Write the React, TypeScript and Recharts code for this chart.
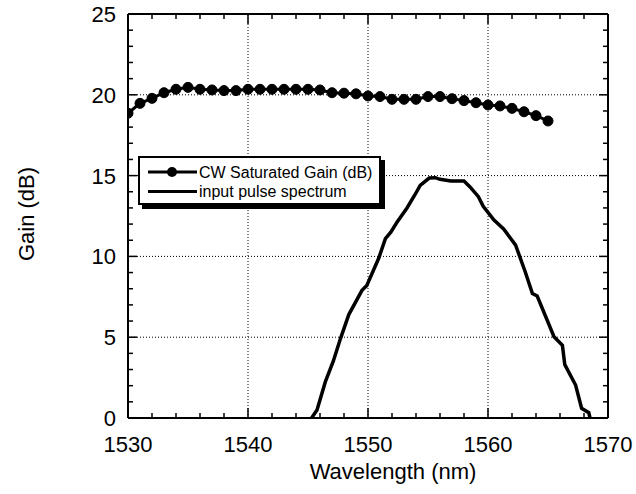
import { Line, LineChart, ReferenceLine, XAxis, YAxis } from "recharts";

const GAIN_WL = [
  1530, 1531, 1532, 1533, 1534, 1535, 1536, 1537, 1538, 1539, 1540, 1541, 1542, 1543, 1544, 1545, 1546, 1547,
  1548, 1549, 1550, 1551, 1552, 1553, 1554, 1555, 1556, 1557, 1558, 1559, 1560, 1561, 1562, 1563, 1564, 1565,
];
const GAIN_DB = [
  18.86, 19.47, 19.78, 20.13, 20.34, 20.46, 20.34, 20.3, 20.26, 20.26, 20.34, 20.34, 20.34, 20.34, 20.34, 20.34,
  20.3, 20.13, 20.1, 20.06, 19.93, 19.89, 19.72, 19.72, 19.72, 19.89, 19.89, 19.76, 19.64, 19.51, 19.37, 19.31,
  19.16, 18.95, 18.71, 18.38,
];

const SPECTRUM_WL = [
  1545.3, 1545.75, 1546.45, 1547.1, 1547.7, 1548.4, 1549.5, 1549.9, 1550.9, 1551.45, 1551.9, 1552.4, 1553.25,
  1553.9, 1554.35, 1555.1, 1555.6, 1556.0, 1556.9, 1558.0, 1558.5, 1559.2, 1559.6, 1560.5, 1561.3, 1562.3,
  1563.1, 1563.7, 1564.1, 1565.5, 1566.2, 1566.4, 1567.3, 1567.8, 1568.4, 1568.5,
];
const SPECTRUM_DB = [
  0, 0.5, 2.25, 3.5, 4.9, 6.4, 7.9, 8.2, 9.9, 11.1, 11.5, 12.1, 13.0, 13.8, 14.4, 14.85, 14.87, 14.77, 14.67,
  14.67, 14.3, 13.7, 13.1, 12.25, 11.7, 10.7, 9.05, 7.7, 7.55, 5.03, 4.5, 3.3, 2.04, 0.6, 0.33, 0,
];

const X_MAJOR = [1530, 1540, 1550, 1560, 1570];
const X_TICKS = [
  1530, 1532, 1534, 1536, 1538, 1540, 1542, 1544, 1546, 1548, 1550, 1552, 1554, 1556, 1558, 1560, 1562, 1564,
  1566, 1568, 1570,
];
const Y_MAJOR = [0, 5, 10, 15, 20, 25];
const Y_TICKS = [
  0, 1, 2, 3, 4, 5, 6, 7, 8, 9, 10, 11, 12, 13, 14, 15, 16, 17, 18, 19, 20, 21, 22, 23, 24, 25,
];
const X_GRID = [1540, 1550, 1560];
const Y_GRID = [5, 10, 15, 20];

const gainData = GAIN_WL.map((wl, i) => ({ wl, db: GAIN_DB[i] }));
const spectrumData = SPECTRUM_WL.map((wl, i) => ({ wl, db: SPECTRUM_DB[i] }));

const FONT = "'Liberation Sans', Arial, sans-serif";

const BottomTick = (props: any) => {
  const { x, y, payload } = props;
  const major = X_MAJOR.includes(payload.value);
  return (
    <g>
      <line x1={x} y1={y} x2={x} y2={y - (major ? 10 : 5)} stroke="#000" strokeWidth={1.5} />
      {major && (
        <text x={x} y={y + 34} textAnchor="middle" fontSize={22} fill="#000" fontFamily={FONT}>
          {payload.value}
        </text>
      )}
    </g>
  );
};

const TopTick = (props: any) => {
  const { x, y, payload } = props;
  const major = X_MAJOR.includes(payload.value);
  return <line x1={x} y1={y} x2={x} y2={y + (major ? 10 : 5)} stroke="#000" strokeWidth={1.5} />;
};

const LeftTick = (props: any) => {
  const { x, y, payload } = props;
  const major = Y_MAJOR.includes(payload.value);
  return (
    <g>
      <line x1={x} y1={y} x2={x + (major ? 9 : 5)} y2={y} stroke="#000" strokeWidth={1.5} />
      {major && (
        <text x={x - 12} y={y} dy="0.36em" textAnchor="end" fontSize={22} fill="#000" fontFamily={FONT}>
          {payload.value}
        </text>
      )}
    </g>
  );
};

const RightTick = (props: any) => {
  const { x, y, payload } = props;
  const major = Y_MAJOR.includes(payload.value);
  return <line x1={x} y1={y} x2={x - (major ? 9 : 5)} y2={y} stroke="#000" strokeWidth={1.5} />;
};

function ChartLegend() {
  return (
    <div
      style={{
        position: "absolute",
        left: 138,
        top: 156,
        width: 239,
        height: 45,
        border: "2px solid #000",
        boxShadow: "4px 4px 0 #000",
        background: "#fff",
      }}
    >
      <svg width={239} height={45} style={{ position: "absolute", left: 0, top: 0 }}>
        <line x1={8} y1={14} x2={57} y2={14} stroke="#000" strokeWidth={3} />
        <circle cx={32} cy={14} r={5} fill="#000" />
        <line x1={8} y1={33.5} x2={57} y2={33.5} stroke="#000" strokeWidth={3} />
        <text x={59} y={14} dy="0.36em" fontSize={16} fontFamily={FONT} fill="#000">
          CW Saturated Gain (dB)
        </text>
        <text x={59} y={33} dy="0.36em" fontSize={16} fontFamily={FONT} fill="#000">
          input pulse spectrum
        </text>
      </svg>
    </div>
  );
}

export default function App() {
  return (
    <div style={{ position: "absolute", left: 0, top: 0, width: 636, height: 494, background: "#fff" }}>
      <LineChart
        width={636}
        height={494}
        margin={{ top: 13, right: 27, bottom: 36, left: 68 }}
        style={{ fontFamily: FONT }}
      >
        <XAxis
          dataKey="wl"
          type="number"
          domain={[1530, 1570]}
          ticks={X_TICKS}
          interval={0}
          allowDataOverflow
          height={40}
          tickSize={0}
          tickMargin={0}
          tick={<BottomTick />}
          axisLine={{ stroke: "#000", strokeWidth: 2 }}
          label={{
            content: (p: any) => (
              <text
                x={p.viewBox.x + p.viewBox.width / 2 + 25}
                y={479}
                textAnchor="middle"
                fontSize={22}
                fill="#000"
                fontFamily={FONT}
              >
                Wavelength (nm)
              </text>
            ),
          }}
        />
        <XAxis
          xAxisId="top"
          orientation="top"
          dataKey="wl"
          type="number"
          domain={[1530, 1570]}
          ticks={X_TICKS}
          interval={0}
          allowDataOverflow
          height={1}
          tickSize={0}
          tickMargin={0}
          tick={<TopTick />}
          axisLine={{ stroke: "#000", strokeWidth: 2 }}
        />
        <YAxis
          type="number"
          domain={[0, 25]}
          ticks={Y_TICKS}
          interval={0}
          allowDataOverflow
          width={60}
          tickSize={0}
          tickMargin={0}
          tick={<LeftTick />}
          axisLine={{ stroke: "#000", strokeWidth: 2 }}
          label={{
            content: () => (
              <text
                x={26}
                y={214}
                transform="rotate(-90 26 214)"
                textAnchor="middle"
                dominantBaseline="central"
                fontSize={22}
                fill="#000"
                fontFamily={FONT}
              >
                Gain (dB)
              </text>
            ),
          }}
        />
        <YAxis
          yAxisId="right"
          orientation="right"
          type="number"
          domain={[0, 25]}
          ticks={Y_TICKS}
          interval={0}
          allowDataOverflow
          width={1}
          tickSize={0}
          tickMargin={0}
          tick={<RightTick />}
          axisLine={{ stroke: "#000", strokeWidth: 2 }}
        />
        {X_GRID.map((v) => (
          <ReferenceLine key={`x${v}`} x={v} stroke="#000" strokeDasharray="1 2" strokeWidth={1} />
        ))}
        {Y_GRID.map((v) => (
          <ReferenceLine key={`y${v}`} y={v} stroke="#000" strokeDasharray="1 2" strokeWidth={1} />
        ))}
        <Line
          data={spectrumData}
          dataKey="db"
          type="linear"
          stroke="#000"
          strokeWidth={3.5}
          dot={false}
          isAnimationActive={false}
        />
        <Line
          data={gainData}
          dataKey="db"
          type="linear"
          stroke="#000"
          strokeWidth={3}
          dot={{ r: 5, fill: "#000", stroke: "#000", strokeWidth: 1 }}
          isAnimationActive={false}
        />
      </LineChart>
      <ChartLegend />
    </div>
  );
}
